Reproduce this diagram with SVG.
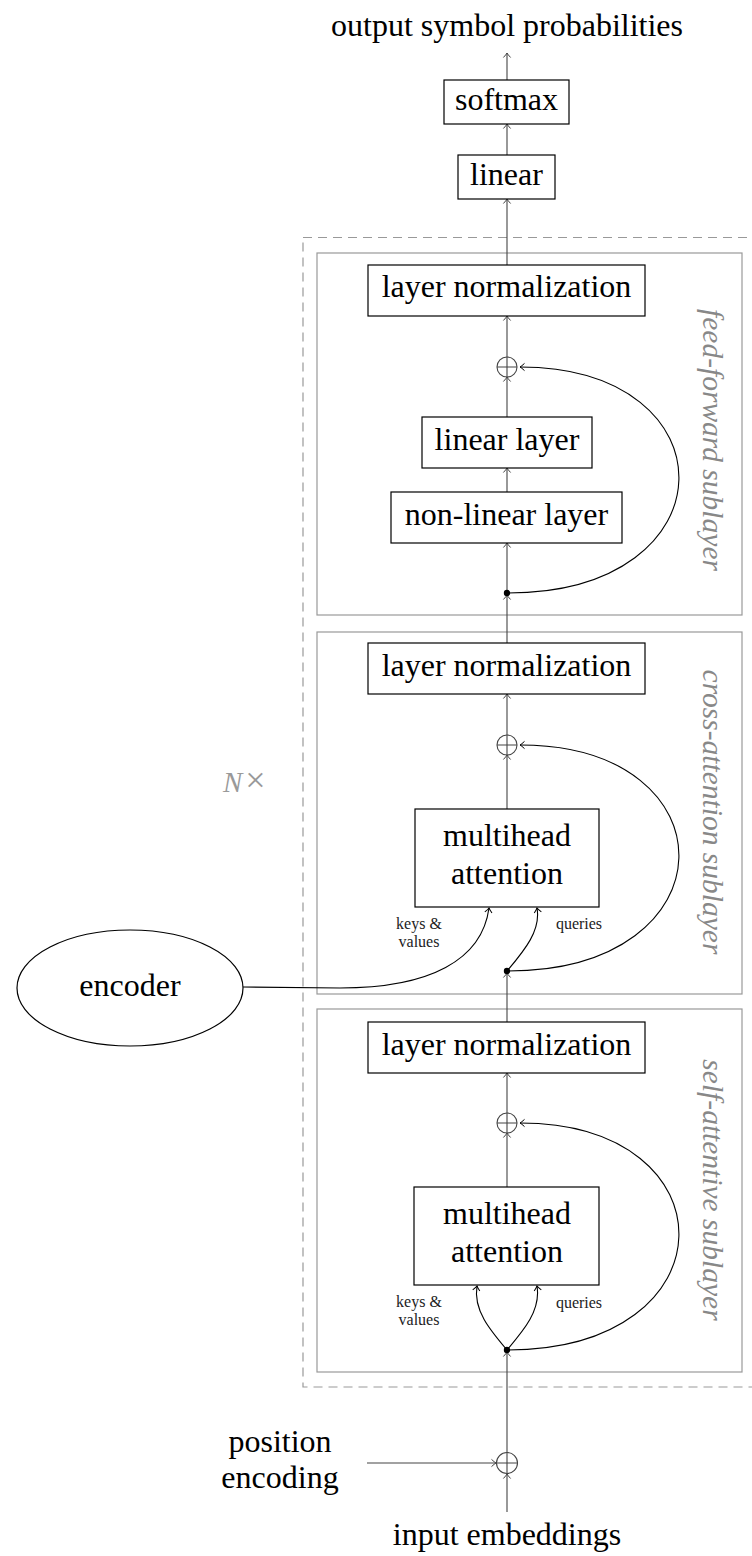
<svg xmlns="http://www.w3.org/2000/svg" width="752" height="1556" viewBox="0 0 752 1556">
<style>
text{font-family:"Liberation Serif","DejaVu Serif",serif;fill:#000}
.big{font-size:32px;text-anchor:middle}
.small{font-size:16px;text-anchor:middle;fill:#222}
.side{font-size:29.5px;font-style:italic;fill:#888;text-anchor:middle}
.box{fill:#fff;stroke:#000;stroke-width:1.2}
.sub{fill:none;stroke:#999;stroke-width:1.2}
.v{fill:none;stroke:#444;stroke-width:1.1;marker-end:url(#ag)}
.c{fill:none;stroke:#000;stroke-width:1.1;marker-end:url(#ab)}
.plus{fill:#fff;stroke:#444;stroke-width:1.1}
.dot{fill:#000}
</style>
<defs>
<marker id="ag" markerWidth="12" markerHeight="12" refX="0" refY="0" viewBox="-6 -6 12 12" orient="auto" markerUnits="userSpaceOnUse">
<path d="M-4.5,-3.6 Q-1.5,-0.8 0,0 Q-1.5,0.8 -4.5,3.6" fill="none" stroke="#444" stroke-width="1"/>
</marker>
<marker id="ab" markerWidth="12" markerHeight="12" refX="0" refY="0" viewBox="-6 -6 12 12" orient="auto" markerUnits="userSpaceOnUse">
<path d="M-4.5,-3.6 Q-1.5,-0.8 0,0 Q-1.5,0.8 -4.5,3.6" fill="none" stroke="#000" stroke-width="1"/>
</marker>
</defs>

<g id="decoder-stack">
<rect x="303" y="237.5" width="470" height="1149.5" fill="none" stroke="#999" stroke-width="1.2" stroke-dasharray="9 6"/>
<text x="223" y="792" style="font-size:29px;fill:#999"><tspan font-style="italic">N</tspan><tspan dx="3" style="font-size:36px">×</tspan></text>
</g>

<g id="ff-sublayer">
<rect class="sub" x="317" y="253" width="425" height="362"/>
<text class="side" transform="translate(703,440) rotate(90)">feed-forward sublayer</text>
</g>
<g id="cross-sublayer">
<rect class="sub" x="317" y="632" width="425" height="362"/>
<text class="side" transform="translate(703,812) rotate(90)">cross-attention sublayer</text>
</g>
<g id="self-sublayer">
<rect class="sub" x="317" y="1009" width="425" height="363"/>
<text class="side" transform="translate(703,1190) rotate(90)">self-attentive sublayer</text>
</g>

<g id="connectors">
<line class="v" x1="507" y1="80" x2="507" y2="53"/>
<line class="v" x1="507" y1="155" x2="507" y2="124"/>
<line class="v" x1="507" y1="265" x2="507" y2="199"/>
<line class="v" x1="507" y1="357" x2="507" y2="316"/>
<line class="v" x1="507" y1="417" x2="507" y2="377"/>
<line class="v" x1="507" y1="492" x2="507" y2="468"/>
<line class="v" x1="507" y1="593" x2="507" y2="543"/>
<path class="c" d="M507,593 C734,593 734,367 520,367"/>
<line class="v" x1="507" y1="643" x2="507" y2="595"/>
<line class="v" x1="507" y1="735" x2="507" y2="694"/>
<line class="v" x1="507" y1="809" x2="507" y2="755"/>
<path class="c" d="M507,971 C734,971 734,745 520,745"/>
<path class="c" d="M507,971 C525,950 541,930 537,908"/>
<path class="c" d="M243,987 L340,988 C430,988 482,960 489,908"/>
<line class="v" x1="507" y1="1022" x2="507" y2="973"/>
<line class="v" x1="507" y1="1113" x2="507" y2="1073"/>
<line class="v" x1="507" y1="1187" x2="507" y2="1133"/>
<path class="c" d="M507,1350 C734,1350 734,1123 520,1123"/>
<path class="c" d="M507,1350 C490,1330 473,1310 477,1286"/>
<path class="c" d="M507,1350 C524,1330 541,1310 537,1286"/>
<line class="v" x1="507" y1="1452" x2="507" y2="1352"/>
<line class="v" x1="507" y1="1512" x2="507" y2="1474"/>
<line class="v" x1="367" y1="1463" x2="496" y2="1463"/>
</g>

<g id="output">
<text class="big" x="507" y="36">output symbol probabilities</text>
</g>
<g id="softmax">
<rect class="box" x="444" y="80" width="125" height="44"/>
<text class="big" x="506.5" y="110">softmax</text>
</g>
<g id="linear">
<rect class="box" x="458" y="155" width="97" height="44"/>
<text class="big" x="506.5" y="185">linear</text>
</g>

<g id="ff-layernorm">
<rect class="box" x="368" y="265" width="277" height="51"/>
<text class="big" x="506.5" y="297">layer normalization</text>
</g>
<g id="ff-add">
<circle class="plus" cx="507" cy="367" r="10"/>
<path d="M497,367 H517 M507,357 V377" stroke="#444" stroke-width="1.1"/>
</g>
<g id="ff-linear">
<rect class="box" x="422" y="417" width="170" height="51"/>
<text class="big" x="507" y="450">linear layer</text>
</g>
<g id="ff-nonlinear">
<rect class="box" x="391" y="492" width="231" height="51"/>
<text class="big" x="506.5" y="525">non-linear layer</text>
</g>
<g id="ff-split"><circle class="dot" cx="507" cy="593" r="3.2"/></g>

<g id="cross-layernorm">
<rect class="box" x="368" y="643" width="277" height="51"/>
<text class="big" x="506.5" y="676">layer normalization</text>
</g>
<g id="cross-add">
<circle class="plus" cx="507" cy="745" r="10"/>
<path d="M497,745 H517 M507,735 V755" stroke="#444" stroke-width="1.1"/>
</g>
<g id="cross-attention">
<rect class="box" x="415" y="809" width="184" height="98"/>
<text class="big" x="507" y="846">multihead</text>
<text class="big" x="507" y="884">attention</text>
<text class="small" x="419" y="929">keys &amp;</text>
<text class="small" x="419" y="947">values</text>
<text class="small" x="579" y="929">queries</text>
</g>
<g id="cross-split"><circle class="dot" cx="507" cy="971" r="3.2"/></g>

<g id="encoder">
<ellipse cx="130" cy="988" rx="113" ry="58" fill="#fff" stroke="#000" stroke-width="1.2"/>
<text class="big" x="130" y="996">encoder</text>
</g>

<g id="self-layernorm">
<rect class="box" x="368" y="1022" width="277" height="51"/>
<text class="big" x="506.5" y="1055">layer normalization</text>
</g>
<g id="self-add">
<circle class="plus" cx="507" cy="1123" r="10"/>
<path d="M497,1123 H517 M507,1113 V1133" stroke="#444" stroke-width="1.1"/>
</g>
<g id="self-attention">
<rect class="box" x="414" y="1187" width="185" height="98"/>
<text class="big" x="507" y="1224">multihead</text>
<text class="big" x="507" y="1262">attention</text>
<text class="small" x="419" y="1307">keys &amp;</text>
<text class="small" x="419" y="1325">values</text>
<text class="small" x="579" y="1308">queries</text>
</g>
<g id="self-split"><circle class="dot" cx="507" cy="1350" r="3.2"/></g>

<g id="input-add">
<circle class="plus" cx="507" cy="1463" r="10.5"/>
<path d="M496.5,1463 H517.5 M507,1452.5 V1473.5" stroke="#444" stroke-width="1.1"/>
</g>
<g id="position-encoding">
<text class="big" x="280" y="1452">position</text>
<text class="big" x="280" y="1488">encoding</text>
</g>
<g id="input-embeddings">
<text class="big" x="507" y="1545">input embeddings</text>
</g>
</svg>
